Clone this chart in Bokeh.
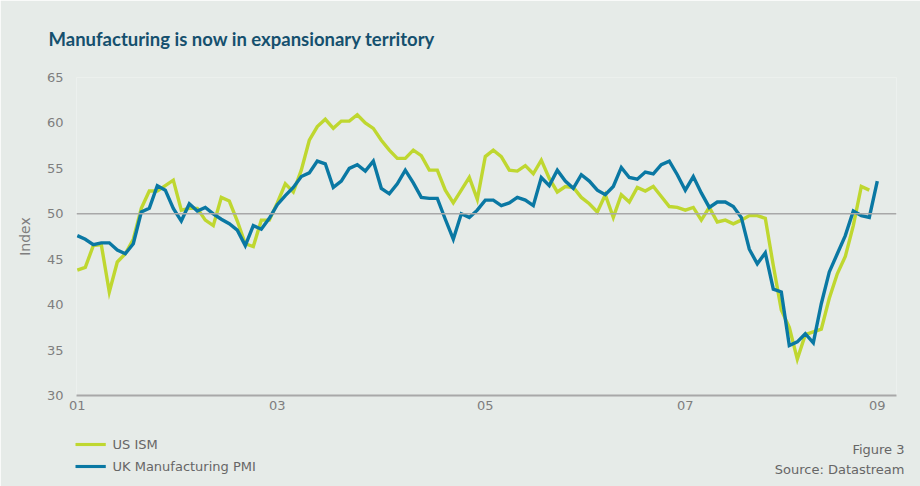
from bokeh.plotting import figure
from bokeh.models import Range1d, Span, Label, FixedTicker, ColumnDataSource
from bokeh.embed import file_html
from bokeh.resources import INLINE

# ---- data (monthly index; tick labels at selected positions) ----
us_ism = [43.8, 44.1, 46.5, 46.6, 41.4, 44.7, 45.6, 47.2, 50.6, 52.5,
          52.5, 53.1, 53.7, 50.4, 50.6, 50.6, 49.3, 48.7, 51.8, 51.4,
          49.2, 46.7, 46.4, 49.3, 49.3, 51.2, 53.3, 52.4, 54.8, 58.1,
          59.6, 60.4, 59.4, 60.2, 60.2, 60.9, 60.0, 59.4, 58.1, 57.0,
          56.1, 56.1, 57.0, 56.4, 54.8, 54.8, 52.6, 51.2, 52.6, 54.0,
          51.6, 56.3, 57.0, 56.3, 54.8, 54.7, 55.3, 54.4, 55.9, 53.9,
          52.4, 53.0, 52.9, 51.8, 51.1, 50.2, 52.1, 49.6, 52.1, 51.3,
          52.9, 52.5, 53.0, 51.9, 50.8, 50.7, 50.4, 50.7, 49.3, 50.7,
          49.1, 49.3, 48.9, 49.3, 49.8, 49.8, 49.5, 44.3, 39.4, 37.5,
          34.0, 36.7, 37.0, 37.3, 40.7, 43.4, 45.3, 48.7, 53.0, 52.6]
uk_pmi = [47.6, 47.2, 46.6, 46.8, 46.8, 46.0, 45.6, 46.7, 50.2, 50.6,
          53.1, 52.6, 50.6, 49.2, 51.1, 50.3, 50.7, 50.0, 49.4, 48.9,
          48.2, 46.5, 48.7, 48.3, 49.5, 51.0, 52.0, 52.9, 54.1, 54.5,
          55.8, 55.5, 52.9, 53.6, 55.0, 55.4, 54.7, 55.8, 52.8, 52.2,
          53.3, 54.8, 53.4, 51.8, 51.7, 51.7, 49.4, 47.2, 50.0, 49.6,
          50.4, 51.5, 51.5, 50.9, 51.2, 51.8, 51.5, 50.9, 54.0, 53.1,
          54.8, 53.6, 52.8, 54.3, 53.6, 52.6, 52.1, 53.0, 55.1, 54.0,
          53.8, 54.6, 54.4, 55.4, 55.8, 54.3, 52.6, 54.1, 52.3, 50.7,
          51.3, 51.3, 50.8, 49.6, 46.1, 44.5, 45.7, 41.7, 41.4, 35.5,
          35.9, 36.8, 35.8, 40.1, 43.6, 45.6, 47.6, 50.3, 49.8, 49.6,
          53.6]
tick_positions = [0, 25, 51, 76, 100]
tick_labels = ["01", "03", "05", "07", "09"]
y_ticks = [30, 35, 40, 45, 50, 55, 60, 65]
series_names = ["US ISM", "UK Manufacturing PMI"]

BG = "#E6EBE8"
GREEN = "#BFD730"
BLUE = "#0A78A3"
TXT = "#7E7E7E"
DARK = "#666666"
FONT = "DejaVu Sans"
TFONT = "Lato"

X0, X1, Y0, Y1 = -0.1, 102.4, 30, 65
FL, FR, FT, FB = 76, 896, 77, 395  # frame edges in canvas pixels


def dx(px):  # canvas px -> data x (for text placement outside the frame)
    return X0 + (px - FL) * (X1 - X0) / (FR - FL)


def dy(py):  # canvas px -> data y
    return Y0 + (FB - py) * (Y1 - Y0) / (FB - FT)


p = figure(width=920, height=486, output_backend="svg", toolbar_location=None,
           title=None, x_range=Range1d(X0, X1), y_range=Range1d(Y0, Y1),
           min_border_left=FL, min_border_right=920 - FR, min_border_top=FT,
           min_border_bottom=486 - FB, background_fill_color=BG,
           border_fill_color=BG, outline_line_color=None)

p.xgrid.visible = False
p.ygrid.visible = False

# y axis
p.yaxis.ticker = FixedTicker(ticks=y_ticks)
p.yaxis.axis_line_color = None
p.yaxis.major_tick_line_color = None
p.yaxis.minor_tick_line_color = None
p.yaxis.major_tick_out = 0
p.yaxis.major_label_standoff = 13
p.yaxis.major_label_text_font = FONT
p.yaxis.major_label_text_font_size = "13px"
p.yaxis.major_label_text_color = TXT
p.yaxis.axis_label = "Index"
p.yaxis.axis_label_text_font = FONT
p.yaxis.axis_label_text_font_style = "normal"
p.yaxis.axis_label_text_font_size = "14px"
p.yaxis.axis_label_text_color = TXT
p.yaxis.axis_label_standoff = 11

# x axis
p.xaxis.ticker = FixedTicker(ticks=tick_positions)
p.xaxis.major_label_overrides = {t: l for t, l in zip(tick_positions, tick_labels)}
p.xaxis.axis_line_color = "#A8A8A8"
p.xaxis.axis_line_width = 2
p.xaxis.major_tick_line_color = None
p.xaxis.minor_tick_line_color = None
p.xaxis.major_tick_out = 0
p.xaxis.major_label_standoff = 5
p.xaxis.major_label_text_font = FONT
p.xaxis.major_label_text_font_size = "13px"
p.xaxis.major_label_text_color = TXT

# 50 reference line
p.add_layout(Span(location=50, dimension="width", line_color="#A8A8A8", line_width=1.5))

src_us = ColumnDataSource(dict(x=list(range(len(us_ism))), y=us_ism))
src_uk = ColumnDataSource(dict(x=list(range(len(uk_pmi))), y=uk_pmi))
p.line("x", "y", source=src_us, line_color=GREEN, line_width=3.4, line_join="miter")
p.line("x", "y", source=src_uk, line_color=BLUE, line_width=3.4, line_join="miter")

# title (label in the top panel; positioned through the plot's scales)
p.add_layout(Label(x=dx(48), y=dy(38), text="Manufacturing is now in expansionary territory",
                   text_font=TFONT, text_font_style="bold", text_font_size="18.5px",
                   text_baseline="middle", text_color="#15506E"), "above")

# footer (top panel has spare room; drawn at the bottom right)
p.add_layout(Label(x=dx(904), y=dy(449), text="Figure 3", text_align="right",
                   text_font=FONT, text_baseline="middle", text_font_size="13px",
                   text_color=DARK), "above")
p.add_layout(Label(x=dx(904), y=dy(469), text="Source: Datastream", text_align="right",
                   text_font=FONT, text_baseline="middle", text_font_size="13px",
                   text_color=DARK), "above")

# legend: swatches + names
for name, col, cy in zip(series_names, [GREEN, BLUE], [444, 466]):
    p.add_layout(Label(x=dx(75), y=dy(cy), text="\u00a0", text_font_size="1px",
                       text_baseline="middle", background_fill_color=col,
                       padding=(15, 1)), "below")
    p.add_layout(Label(x=dx(112), y=dy(cy), text=name, text_font=FONT,
                       text_font_size="13px", text_baseline="middle",
                       text_color=DARK), "below")

open("out.html", "w").write(file_html(p, INLINE))
